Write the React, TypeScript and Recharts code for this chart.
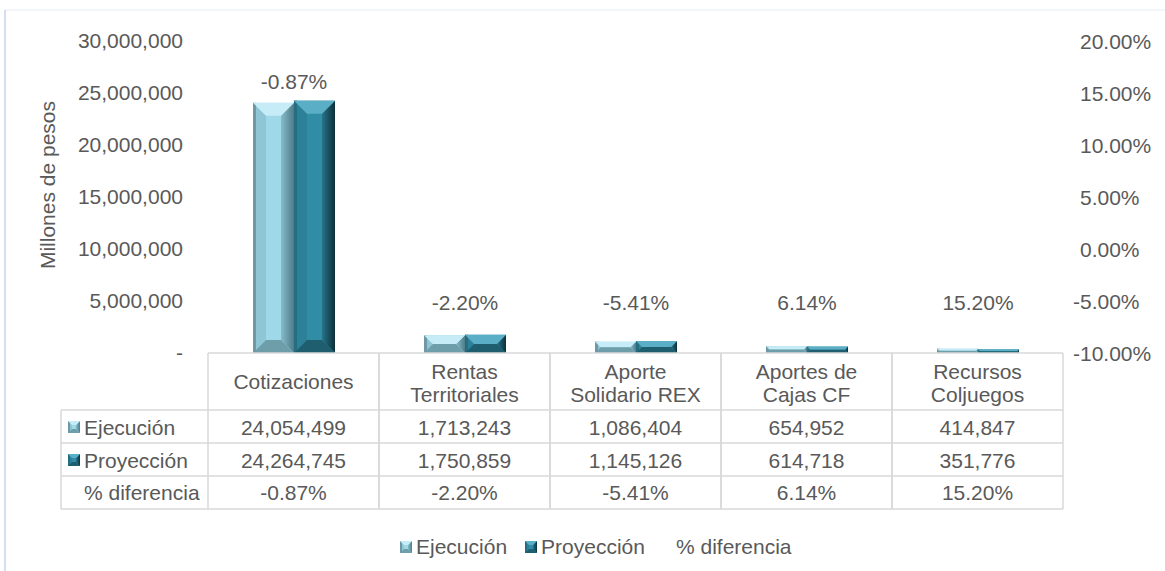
import React from 'react';
import { ComposedChart, Bar, Line, XAxis, YAxis, LabelList } from 'recharts';

const categories = ['Cotizaciones', 'Rentas\nTerritoriales', 'Aporte\nSolidario REX', 'Aportes de\nCajas CF', 'Recursos\nColjuegos'];
const ejecucion = [24054499, 1713243, 1086404, 654952, 414847];
const proyeccion = [24264745, 1750859, 1145126, 614718, 351776];
const diferencia = [-0.87, -2.2, -5.41, 6.14, 15.2];
const leftTicks = [0, 5000000, 10000000, 15000000, 20000000, 25000000, 30000000];
const rightTicks = [-10, -5, 0, 5, 10, 15, 20];
const seriesNames = ['Ejecución', 'Proyección', '% diferencia'];

const data = categories.map((c, i) => ({
  cat: c,
  ejec: ejecucion[i],
  proy: proyeccion[i],
  diff: diferencia[i],
}));

const W = 1165;
const H = 571;
const FONT = '"Liberation Sans", Arial, sans-serif';
const TXT = '#595959';
const FS = 21;
const GRID = '#d9d9d9';
const PLOT_LEFT = 208;
const PLOT_RIGHT = 1063;
const COL_W = (PLOT_RIGHT - PLOT_LEFT) / categories.length;
const HEAD_W = 147;
const ROWS = [57, 90, 123, 156];

const PAL = {
  ejec: { main: '#9ed8e9', top: '#c6edf7', bottom: '#6f9eab', left: '#8fc6d6', rightA: '#86bccb', rightB: '#4f7b87', edgeL: '#6f98a4' },
  proy: { main: '#318ca5', top: '#5aafc6', bottom: '#1f5e6f', left: '#2c8199', rightA: '#26748a', rightB: '#0d2f39', edgeL: '#256d80' },
};

const fmt = (v: number) => v.toLocaleString('en-US');
const pct = (v: number) => v.toFixed(2) + '%';

function bevelParts(x: number, y: number, w: number, h: number, c: any, id: string, maxB = 13) {
  const b = Math.max(0, Math.min(maxB, h / 2, w / 3));
  return (
    <g>
      <defs>
        <linearGradient id={id + '-r'} x1="0" y1="0" x2="1" y2="0">
          <stop offset="0" stopColor={c.rightA} />
          <stop offset="1" stopColor={c.rightB} />
        </linearGradient>
      </defs>
      <rect x={x} y={y} width={w} height={h} fill={c.main} />
      <polygon points={`${x},${y} ${x + b},${y + b} ${x + b},${y + h - b} ${x},${y + h}`} fill={c.left} />
      <rect x={x} y={y} width={Math.min(3, w / 6)} height={h} fill={c.edgeL} />
      <polygon points={`${x + w},${y} ${x + w - b},${y + b} ${x + w - b},${y + h - b} ${x + w},${y + h}`} fill={`url(#${id}-r)`} />
      <polygon points={`${x},${y} ${x + w},${y} ${x + w - b},${y + b} ${x + b},${y + b}`} fill={c.top} />
      <polygon points={`${x},${y + h} ${x + w},${y + h} ${x + w - b},${y + h - b} ${x + b},${y + h - b}`} fill={c.bottom} />
    </g>
  );
}

const makeShape = (key: 'ejec' | 'proy') => (props: any) => {
  const { x, y, width, height, index } = props;
  if (!height || height <= 0) return <g />;
  return bevelParts(x, y, width, height, PAL[key], `grad-${key}-${index}`);
};

const Icon = ({ k }: { k: 'ejec' | 'proy' }) => (
  <svg width={12} height={12} style={{ display: 'block' }}>
    {bevelParts(0, 0, 12, 12, PAL[k], `icon-${k}`, 4)}
  </svg>
);

const IconG = ({ k, x, y }: { k: 'ejec' | 'proy'; x: number; y: number }) =>
  bevelParts(x, y, 12, 12, PAL[k], `iconT-${k}`, 4);

const TableTick = (props: any) => {
  const { x, y, payload } = props;
  const i = payload.index;
  const left = x - COL_W / 2;
  const right = x + COL_W / 2;
  const lines = String(payload.value).split('\n');
  const textProps = { fontFamily: FONT, fontSize: FS, fill: TXT, textAnchor: 'middle' as const, dominantBaseline: 'central' as const };
  const rowVals = [fmt(ejecucion[i]), fmt(proyeccion[i]), pct(diferencia[i])];
  const rowCenters = [74, 107, 139.5];
  return (
    <g>
      <line x1={left} y1={y} x2={left} y2={y + ROWS[3]} stroke={GRID} strokeWidth={1.5} />
      <line x1={right} y1={y} x2={right} y2={y + ROWS[3]} stroke={GRID} strokeWidth={1.5} />
      {ROWS.map((r) => (
        <line key={r} x1={left} y1={y + r} x2={right} y2={y + r} stroke={GRID} strokeWidth={1.5} />
      ))}
      {lines.length === 1 ? (
        <text x={x} y={y + 28.5} {...textProps}>{lines[0]}</text>
      ) : (
        lines.map((l, j) => (
          <text key={j} x={x} y={y + 18 + j * 23} {...textProps}>{l}</text>
        ))
      )}
      {rowVals.map((v, j) => (
        <text key={j} x={x} y={y + rowCenters[j]} {...textProps}>{v}</text>
      ))}
      {i === 0 && (
        <g>
          <line x1={left - HEAD_W} y1={y + ROWS[0]} x2={left - HEAD_W} y2={y + ROWS[3]} stroke={GRID} strokeWidth={1.5} />
          {ROWS.map((r) => (
            <line key={r} x1={left - HEAD_W} y1={y + r} x2={left} y2={y + r} stroke={GRID} strokeWidth={1.5} />
          ))}
          <IconG k="ejec" x={left - HEAD_W + 7} y={y + rowCenters[0] - 6} />
          <IconG k="proy" x={left - HEAD_W + 7} y={y + rowCenters[1] - 6} />
          {seriesNames.map((n, j) => (
            <text key={n} x={left - HEAD_W + 23} y={y + rowCenters[j]} fontFamily={FONT} fontSize={FS} fill={TXT} dominantBaseline="central">{n}</text>
          ))}
        </g>
      )}
    </g>
  );
};

const RightTick = (props: any) => {
  const { x, y, payload } = props;
  const v = Number(payload.value);
  return (
    <text x={x + (v >= 0 ? 7 : 0)} y={y} dominantBaseline="central" fontFamily={FONT} fontSize={FS} fill={TXT}>
      {pct(v)}
    </text>
  );
};

const PctLabel = (props: any) => {
  const { x, y, height, value } = props;
  const base = y + height;
  const cy = Math.min(y - 19, base - 51);
  return (
    <text x={x} y={cy} textAnchor="middle" dominantBaseline="central" fontFamily={FONT} fontSize={FS} fill={TXT}>
      {pct(Number(value))}
    </text>
  );
};

const YTitle = (props: any) => {
  const { viewBox } = props;
  const cx = viewBox.x + 12;
  const cy = viewBox.y + viewBox.height / 2 - 12;
  return (
    <text x={cx} y={cy} transform={`rotate(-90, ${cx}, ${cy})`} textAnchor="middle" dominantBaseline="central" fontFamily={FONT} fontSize={FS} fill={TXT}>
      Millones de pesos
    </text>
  );
};

export default function App() {
  return (
    <div style={{ position: 'absolute', left: 0, top: 0, width: W, height: H, background: '#fff', fontFamily: FONT }}>
      <svg width={W} height={H} style={{ position: 'absolute', left: 0, top: 0 }}>
        <line x1={5} y1={10} x2={W} y2={10} stroke="#eef2f9" strokeWidth={1.5} />
        <line x1={5} y1={10} x2={5} y2={H} stroke="#c5d4ee" strokeWidth={1.5} />
      </svg>
      <div style={{ position: 'absolute', left: 0, top: 0 }}>
        <ComposedChart width={W} height={H} data={data} margin={{ top: 41, right: 5, left: 35, bottom: 58 }} barGap={0}>
          <XAxis
            dataKey="cat"
            height={160}
            tickLine={false}
            tickSize={0}
            tickMargin={0}
            axisLine={{ stroke: GRID, strokeWidth: 1.5 }}
            tick={<TableTick />}
            interval={0}
          />
          <YAxis
            yAxisId="left"
            orientation="left"
            width={173}
            domain={[0, 30000000]}
            ticks={leftTicks}
            tickFormatter={(v: number) => (v === 0 ? '-' : fmt(v))}
            axisLine={false}
            tickLine={false}
            tickSize={0}
            tickMargin={25}
            tick={{ fontFamily: FONT, fontSize: FS, fill: TXT }}
            label={<YTitle />}
          />
          <YAxis
            yAxisId="right"
            orientation="right"
            width={97}
            domain={[-10, 20]}
            ticks={rightTicks}
            axisLine={false}
            tickLine={false}
            tickSize={0}
            tickMargin={10}
            tick={<RightTick />}
          />
          <Bar yAxisId="left" dataKey="ejec" name={seriesNames[0]} barSize={41} shape={makeShape('ejec')} isAnimationActive={false} />
          <Bar yAxisId="left" dataKey="proy" name={seriesNames[1]} barSize={41} shape={makeShape('proy')} isAnimationActive={false}>
            <LabelList dataKey="diff" content={<PctLabel />} />
          </Bar>
          <Line yAxisId="right" dataKey="diff" name={seriesNames[2]} stroke="none" dot={false} activeDot={false} isAnimationActive={false} />
        </ComposedChart>
      </div>
      <div style={{ position: 'absolute', left: 400, top: 535, height: 24, display: 'flex', alignItems: 'center', fontSize: FS, color: TXT, fontFamily: FONT, whiteSpace: 'nowrap' }}>
        <Icon k="ejec" />
        <span style={{ marginLeft: 4 }}>{seriesNames[0]}</span>
        <span style={{ width: 18 }} />
        <Icon k="proy" />
        <span style={{ marginLeft: 4 }}>{seriesNames[1]}</span>
        <span style={{ width: 31 }} />
        <span>{seriesNames[2]}</span>
      </div>
    </div>
  );
}
